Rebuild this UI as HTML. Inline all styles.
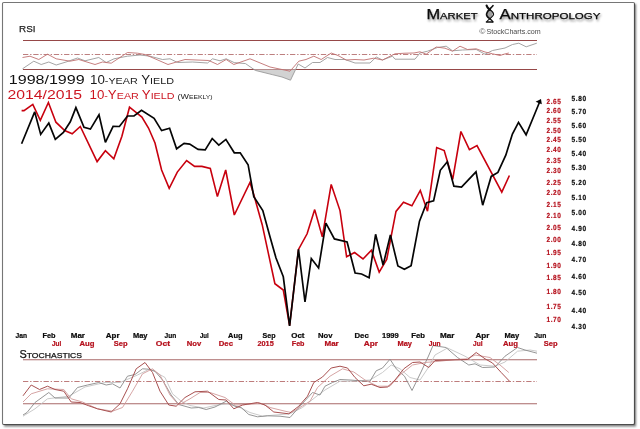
<!DOCTYPE html><html><head><meta charset="utf-8"><style>html,body{margin:0;padding:0;background:#fff;}svg{display:block;will-change:transform}</style></head><body><svg width="640" height="429" viewBox="0 0 640 429"><rect width="640" height="429" fill="#fff"/><defs><filter id="sh" x="-5%" y="-5%" width="110%" height="110%"><feGaussianBlur stdDeviation="1.3"/></filter><filter id="tsh" x="-10%" y="-30%" width="120%" height="160%"><feGaussianBlur stdDeviation="0.8"/></filter></defs><rect x="4" y="4" width="632" height="422.5" fill="#777" filter="url(#sh)"/><rect x="2.5" y="2.5" width="632" height="422" rx="1.2" fill="#fff" stroke="#767676" stroke-width="1.1"/><path d="M634.5,3.5 L634.5,423.3 Q634.5,424.5 633.3,424.5 L3.5,424.5" fill="none" stroke="#4c4c4c" stroke-width="1.1"/><line x1="23" y1="40.5" x2="537" y2="40.5" stroke="#964848" stroke-width="1"/><line x1="23" y1="69.5" x2="537" y2="69.5" stroke="#964848" stroke-width="1"/><line x1="23" y1="54.5" x2="537" y2="54.5" stroke="#a04848" stroke-width="0.7" stroke-dasharray="5.3,1.8,1.4,1.77" stroke-dashoffset="0"/><polygon points="254.0,69.5 255.3,70.4 272.2,74.6 282.0,77.0 290.5,80.2 295.6,69.5" fill="#d2d2d2"/><polyline points="22.5,68.8 33.8,61.2 41.2,64.5 48.8,62.0 56.2,65.0 66.0,62.0 77.5,58.0 85.0,60.8 98.8,57.5 106.2,62.5 114.0,58.8 127.5,56.2 140.0,55.0 150.0,56.2 162.5,59.5 170.0,58.8 177.5,62.5 192.5,62.0 207.5,63.0 212.5,58.8 220.0,60.8 226.2,58.8 234.2,62.6 245.5,63.6 255.3,70.4 272.2,74.6 282.0,77.0 290.5,80.2 298.2,64.0 305.0,68.0 312.5,62.5 320.0,62.5 327.5,57.5 335.0,59.5 345.0,59.5 355.0,63.0 370.0,63.0 376.2,57.0 382.5,60.0 392.5,56.2 395.0,59.2 415.0,59.2 420.0,53.0 427.5,51.2 437.5,47.5 446.2,46.2 452.5,50.8 462.5,50.0 476.2,49.5 485.0,54.2 492.5,50.5 505.0,48.0 512.5,44.5 518.8,43.2 526.2,46.8 536.8,43.2" fill="none" stroke="#9a9a9a" stroke-width="0.9"/><polyline points="22.5,57.5 30.0,56.2 38.8,59.5 47.5,54.2 56.2,58.8 70.0,61.2 78.8,59.5 95.0,64.5 102.5,62.0 111.2,63.2 127.5,52.5 137.5,53.2 145.0,54.5 155.0,58.8 168.0,64.5 185.0,59.5 208.8,60.5 217.5,64.5 226.2,59.5 233.8,64.5 250.0,58.8 270.0,67.0 290.0,71.2 298.8,61.2 306.0,59.5 313.8,56.2 321.2,59.5 331.2,53.0 338.0,55.5 346.2,60.0 355.0,59.5 364.0,60.0 373.8,58.2 382.5,60.0 395.0,53.8 405.0,53.2 414.0,53.0 420.0,51.8 426.2,54.2 436.2,47.0 445.0,48.2 452.5,51.2 460.0,46.2 467.5,49.5 476.2,48.8 485.0,52.0 492.5,53.8 500.0,55.5 504.0,54.2 508.8,53.0" fill="none" stroke="#c07070" stroke-width="0.9"/><line x1="23" y1="359.75" x2="537" y2="359.75" stroke="#a86868" stroke-width="1.1"/><line x1="23" y1="403.75" x2="537" y2="403.75" stroke="#a86868" stroke-width="1.1"/><line x1="23" y1="381.5" x2="537" y2="381.5" stroke="#a85050" stroke-width="0.75" stroke-dasharray="5.3,1.8,1.4,1.77" stroke-dashoffset="0"/><polyline points="23.0,416.2 35.0,408.8 47.5,398.8 68.8,396.2 85.0,387.0 105.0,382.5 120.0,382.5 137.5,375.0 150.0,368.8 165.0,377.5 172.5,393.8 181.2,401.2 190.0,405.5 203.8,408.0 217.5,405.0 227.5,403.8 240.0,407.5 250.0,412.5 262.5,416.2 275.0,415.0 290.0,413.8 302.5,407.5 315.0,397.5 325.0,390.0 340.0,381.2 355.0,381.2 370.0,380.0 382.5,372.5 391.2,365.0 400.0,368.8 410.0,377.5 420.0,380.0 427.5,368.8 435.0,355.0 447.5,348.0 460.0,353.8 465.0,356.2 480.0,365.0 495.0,366.2 505.0,362.0 517.5,351.2 530.0,350.0 537.0,351.2" fill="none" stroke="#c4c4c4" stroke-width="0.9"/><polyline points="23.0,415.0 27.0,412.5 35.0,402.5 48.8,392.5 55.0,398.0 68.8,398.0 77.5,387.5 87.5,385.0 98.8,382.5 106.2,385.0 112.5,383.8 120.0,388.0 127.5,376.2 135.0,374.5 142.5,368.8 148.8,369.2 155.0,371.2 162.5,380.0 171.2,395.0 178.8,404.5 191.2,408.0 198.8,407.5 206.2,409.5 215.0,407.0 226.2,401.2 235.0,406.2 241.2,407.5 248.8,414.5 257.5,416.8 267.5,415.8 280.0,416.2 290.0,417.5 300.0,406.2 312.5,392.5 320.0,395.0 325.0,386.2 332.5,382.5 340.0,379.5 350.0,380.0 360.0,380.8 370.0,381.2 376.2,370.8 382.5,368.0 390.0,359.2 396.2,368.8 404.5,376.2 412.0,390.5 421.0,372.0 428.5,356.0 433.0,345.5 446.0,347.5 457.5,357.5 468.8,365.0 475.0,363.8 482.5,367.5 495.0,367.0 505.0,356.2 517.5,347.5 525.0,350.0 537.0,353.2" fill="none" stroke="#8a8a8a" stroke-width="0.9"/><polyline points="23.0,402.0 31.2,393.8 47.5,388.8 63.8,389.5 71.2,398.8 82.5,402.0 97.5,408.8 112.5,411.2 122.5,407.5 132.5,391.2 142.5,373.8 152.5,368.8 160.0,375.0 170.0,395.0 178.8,405.0 190.0,398.8 200.0,392.5 210.0,392.5 225.0,397.5 235.0,405.0 247.5,404.5 260.0,403.0 270.0,407.5 285.0,411.2 291.2,412.5 300.0,407.5 310.0,401.2 317.5,387.5 330.0,376.2 342.5,368.8 353.8,372.0 365.0,380.0 377.5,386.2 390.0,386.2 400.0,375.0 412.5,365.0 425.0,362.5 440.0,361.2 455.0,359.5 467.5,358.8 475.0,355.0 490.0,357.5 500.0,365.0 508.8,372.5" fill="none" stroke="#d09a9a" stroke-width="0.9"/><polyline points="23.0,395.8 31.2,385.0 39.5,389.5 47.5,386.2 55.0,389.5 63.8,391.2 71.2,402.0 80.0,402.5 88.8,405.8 97.5,408.8 111.2,412.0 120.0,403.8 127.5,388.8 136.2,368.8 145.0,362.5 152.5,372.5 160.0,391.2 168.8,405.0 176.2,406.2 185.0,397.5 195.0,391.8 207.5,391.2 218.8,399.5 226.2,400.0 233.8,408.8 242.5,405.0 257.5,402.5 265.0,405.0 273.8,412.0 288.8,413.8 298.8,406.2 307.5,396.2 313.8,382.5 322.5,377.0 331.2,368.0 340.0,366.2 347.5,368.0 355.0,377.5 363.8,385.8 371.2,384.2 380.0,387.5 387.5,387.0 395.0,380.0 403.8,368.8 412.5,362.5 420.0,362.0 428.8,367.5 435.0,360.5 450.0,360.0 467.5,359.5 476.2,352.5 485.0,358.8 492.5,363.0 501.2,372.5 509.5,381.2" fill="none" stroke="#a85050" stroke-width="1"/><polyline points="21.6,110.6 24.0,110.6 32.8,104.4 40.3,120.3 48.4,102.5 55.9,122.2 64.7,130.6 72.2,133.8 80.3,126.5 97.1,161.6 105.4,150.7 113.8,158.8 121.9,136.2 129.5,107.2 141.9,117.1 148.5,128.0 155.0,143.0 161.6,170.0 169.2,188.3 177.3,172.1 186.6,160.5 194.6,166.4 201.9,166.4 210.3,168.5 217.4,196.6 225.7,170.0 234.3,215.0 250.0,182.5 253.8,194.7 262.2,224.7 274.9,283.7 283.3,290.0 289.6,325.6 298.5,249.4 307.1,233.8 314.7,209.6 322.3,236.8 331.2,184.4 340.0,210.6 346.6,256.8 354.6,252.5 363.0,259.0 371.4,250.3 379.2,272.1 386.7,259.5 396.0,211.4 403.5,202.2 411.9,205.8 420.3,190.4 427.5,211.2 436.7,147.6 444.2,150.6 452.7,179.4 460.9,131.5 469.4,149.7 477.0,145.5 501.8,192.1 509.4,175.5" fill="none" stroke="#c8000e" stroke-width="1.6" stroke-linejoin="miter" stroke-miterlimit="3"/><polyline points="21.6,143.8 34.7,111.9 40.7,134.4 48.8,123.1 55.3,139.4 63.4,132.5 70.3,121.8 75.9,107.6 84.0,127.2 90.4,129.1 99.0,114.7 105.4,142.4 113.1,126.3 119.4,126.5 127.5,116.0 134.0,116.0 141.5,110.4 154.1,118.4 161.6,130.6 169.6,128.2 176.6,148.8 184.1,143.4 189.7,144.1 198.1,149.4 205.2,149.9 212.2,138.5 218.8,145.2 225.9,139.4 234.3,152.8 240.2,152.9 248.1,164.7 253.8,196.6 262.8,210.6 269.5,235.0 276.0,258.0 283.3,276.8 289.6,326.0 298.5,249.4 305.0,302.0 311.3,258.5 318.6,268.0 325.9,223.2 334.4,238.9 347.1,242.0 355.1,273.0 361.6,274.0 369.1,277.7 375.6,234.3 383.1,265.1 390.4,234.9 397.9,266.0 404.4,269.3 411.1,265.7 419.5,221.2 426.7,202.7 433.6,200.9 440.3,170.3 447.3,161.8 453.9,186.1 461.5,187.0 476.0,171.8 482.7,205.2 491.2,176.4 497.9,172.4 505.8,155.2 512.4,134.0 518.5,122.4 526.1,134.8 535.2,112.7 539.6,102.0" fill="none" stroke="#050505" stroke-width="1.7" stroke-linejoin="miter" stroke-miterlimit="3"/><polygon points="541,99 535.6,101.8 541.8,104.2" fill="#000"/><g filter="url(#tsh)" opacity="0.55"><text x="427.5" y="20.6" font-family="Liberation Sans, sans-serif" fill="#444" textLength="51" lengthAdjust="spacingAndGlyphs" stroke="#444" stroke-width="0.3"><tspan font-size="14">M</tspan><tspan font-size="9.6">ARKET</tspan></text><text x="500.5" y="20.6" font-family="Liberation Sans, sans-serif" fill="#444" textLength="101" lengthAdjust="spacingAndGlyphs" stroke="#444" stroke-width="0.3"><tspan font-size="14">A</tspan><tspan font-size="9.6">NTHROPOLOGY</tspan></text></g><text x="426.5" y="18.9" font-family="Liberation Sans, sans-serif" fill="#0a0a0a" textLength="51" lengthAdjust="spacingAndGlyphs" stroke="#0a0a0a" stroke-width="0.25"><tspan font-size="14">M</tspan><tspan font-size="9.6">ARKET</tspan></text><text x="499.5" y="18.9" font-family="Liberation Sans, sans-serif" fill="#0a0a0a" textLength="101" lengthAdjust="spacingAndGlyphs" stroke="#0a0a0a" stroke-width="0.25"><tspan font-size="14">A</tspan><tspan font-size="9.6">NTHROPOLOGY</tspan></text><ellipse cx="490" cy="14" rx="2.6" ry="4.2" fill="#a0a0a0"/><g stroke="#111" fill="none" stroke-linecap="round"><path d="M486.6,5.6 C487.2,8.2 489.5,9 490,9.8" stroke-width="2.2"/><path d="M493,5.6 C491.5,8 487,10 486.6,14.2 C486.4,17 489,18 490.2,19" stroke-width="1.7"/><path d="M490,9.8 C492,11 493.6,12.5 493.6,14.3 C493.6,17 487.6,19.5 486.8,21.8" stroke-width="1.1"/><path d="M490.2,19 C491.2,19.8 492.4,20.8 492.8,21.8" stroke-width="1.4"/><path d="M486.5,22 L492.8,22" stroke-width="1.6"/></g><text x="479.3" y="34.3" font-family="Liberation Sans, sans-serif" font-size="7.4" fill="#555" textLength="6.2" lengthAdjust="spacingAndGlyphs">©</text><text x="486.5" y="34.3" font-family="Liberation Sans, sans-serif" font-size="7.2" fill="#4a4a4a" textLength="54.1" lengthAdjust="spacingAndGlyphs">StockCharts.com</text><text x="19.1" y="31.9" font-family="Liberation Sans, sans-serif" font-size="9.9" fill="#222" textLength="16.4" lengthAdjust="spacingAndGlyphs" stroke="#222" stroke-width="0.25">RSI</text><text x="19.5" y="357.6" font-family="Liberation Sans, sans-serif" fill="#111" textLength="62.5" lengthAdjust="spacingAndGlyphs" stroke="#111" stroke-width="0.25"><tspan font-size="10">S</tspan><tspan font-size="7.9">TOCHASTICS</tspan></text><text x="8.8" y="84.2" font-family="Liberation Sans, sans-serif" font-size="12" fill="#111" textLength="75.8" lengthAdjust="spacingAndGlyphs">1998/1999</text><text x="90" y="84.2" font-family="Liberation Sans, sans-serif" fill="#1a1a1a" textLength="84" lengthAdjust="spacingAndGlyphs"><tspan font-size="12">10</tspan><tspan font-size="9.7">-YEAR</tspan><tspan font-size="12"> Y</tspan><tspan font-size="9.7">IELD</tspan></text><text x="7.5" y="98.6" font-family="Liberation Sans, sans-serif" font-size="12" fill="#cc1520" textLength="74.6" lengthAdjust="spacingAndGlyphs">2014/2015</text><text x="89.5" y="98.6" font-family="Liberation Sans, sans-serif" fill="#cc1520" textLength="85" lengthAdjust="spacingAndGlyphs"><tspan font-size="12">10</tspan><tspan font-size="9.7">-</tspan><tspan font-size="12">Y</tspan><tspan font-size="9.7">EAR </tspan><tspan font-size="12">Y</tspan><tspan font-size="9.7">IELD</tspan></text><text x="177.5" y="98.6" font-family="Liberation Sans, sans-serif" fill="#222" textLength="35" lengthAdjust="spacingAndGlyphs"><tspan font-size="6.6">(W</tspan><tspan font-size="5">EEKLY)</tspan></text><text transform="translate(546.4,103.70) scale(0.88,1)" font-family="Liberation Sans, sans-serif" font-size="7.4" font-weight="bold" fill="#b5101c" stroke="#b5101c" stroke-width="0.18" text-rendering="geometricPrecision" textLength="16.59" lengthAdjust="spacing">2.65</text><text transform="translate(546.4,113.20) scale(0.88,1)" font-family="Liberation Sans, sans-serif" font-size="7.4" font-weight="bold" fill="#b5101c" stroke="#b5101c" stroke-width="0.18" text-rendering="geometricPrecision" textLength="16.59" lengthAdjust="spacing">2.60</text><text transform="translate(546.4,122.70) scale(0.88,1)" font-family="Liberation Sans, sans-serif" font-size="7.4" font-weight="bold" fill="#b5101c" stroke="#b5101c" stroke-width="0.18" text-rendering="geometricPrecision" textLength="16.59" lengthAdjust="spacing">2.55</text><text transform="translate(546.4,133.00) scale(0.88,1)" font-family="Liberation Sans, sans-serif" font-size="7.4" font-weight="bold" fill="#b5101c" stroke="#b5101c" stroke-width="0.18" text-rendering="geometricPrecision" textLength="16.59" lengthAdjust="spacing">2.50</text><text transform="translate(546.4,142.20) scale(0.88,1)" font-family="Liberation Sans, sans-serif" font-size="7.4" font-weight="bold" fill="#b5101c" stroke="#b5101c" stroke-width="0.18" text-rendering="geometricPrecision" textLength="16.59" lengthAdjust="spacing">2.45</text><text transform="translate(546.4,152.00) scale(0.88,1)" font-family="Liberation Sans, sans-serif" font-size="7.4" font-weight="bold" fill="#b5101c" stroke="#b5101c" stroke-width="0.18" text-rendering="geometricPrecision" textLength="16.59" lengthAdjust="spacing">2.40</text><text transform="translate(546.4,163.00) scale(0.88,1)" font-family="Liberation Sans, sans-serif" font-size="7.4" font-weight="bold" fill="#b5101c" stroke="#b5101c" stroke-width="0.18" text-rendering="geometricPrecision" textLength="16.59" lengthAdjust="spacing">2.35</text><text transform="translate(546.4,173.20) scale(0.88,1)" font-family="Liberation Sans, sans-serif" font-size="7.4" font-weight="bold" fill="#b5101c" stroke="#b5101c" stroke-width="0.18" text-rendering="geometricPrecision" textLength="16.59" lengthAdjust="spacing">2.30</text><text transform="translate(546.4,185.00) scale(0.88,1)" font-family="Liberation Sans, sans-serif" font-size="7.4" font-weight="bold" fill="#b5101c" stroke="#b5101c" stroke-width="0.18" text-rendering="geometricPrecision" textLength="16.59" lengthAdjust="spacing">2.25</text><text transform="translate(546.4,195.30) scale(0.88,1)" font-family="Liberation Sans, sans-serif" font-size="7.4" font-weight="bold" fill="#b5101c" stroke="#b5101c" stroke-width="0.18" text-rendering="geometricPrecision" textLength="16.59" lengthAdjust="spacing">2.20</text><text transform="translate(546.4,207.20) scale(0.88,1)" font-family="Liberation Sans, sans-serif" font-size="7.4" font-weight="bold" fill="#b5101c" stroke="#b5101c" stroke-width="0.18" text-rendering="geometricPrecision" textLength="16.59" lengthAdjust="spacing">2.15</text><text transform="translate(546.4,217.70) scale(0.88,1)" font-family="Liberation Sans, sans-serif" font-size="7.4" font-weight="bold" fill="#b5101c" stroke="#b5101c" stroke-width="0.18" text-rendering="geometricPrecision" textLength="16.59" lengthAdjust="spacing">2.10</text><text transform="translate(546.4,230.00) scale(0.88,1)" font-family="Liberation Sans, sans-serif" font-size="7.4" font-weight="bold" fill="#b5101c" stroke="#b5101c" stroke-width="0.18" text-rendering="geometricPrecision" textLength="16.59" lengthAdjust="spacing">2.05</text><text transform="translate(546.4,242.00) scale(0.88,1)" font-family="Liberation Sans, sans-serif" font-size="7.4" font-weight="bold" fill="#b5101c" stroke="#b5101c" stroke-width="0.18" text-rendering="geometricPrecision" textLength="16.59" lengthAdjust="spacing">2.00</text><text transform="translate(546.4,255.30) scale(0.88,1)" font-family="Liberation Sans, sans-serif" font-size="7.4" font-weight="bold" fill="#b5101c" stroke="#b5101c" stroke-width="0.18" text-rendering="geometricPrecision" textLength="16.59" lengthAdjust="spacing">1.95</text><text transform="translate(546.4,267.70) scale(0.88,1)" font-family="Liberation Sans, sans-serif" font-size="7.4" font-weight="bold" fill="#b5101c" stroke="#b5101c" stroke-width="0.18" text-rendering="geometricPrecision" textLength="16.59" lengthAdjust="spacing">1.90</text><text transform="translate(546.4,280.30) scale(0.88,1)" font-family="Liberation Sans, sans-serif" font-size="7.4" font-weight="bold" fill="#b5101c" stroke="#b5101c" stroke-width="0.18" text-rendering="geometricPrecision" textLength="16.59" lengthAdjust="spacing">1.85</text><text transform="translate(546.4,294.30) scale(0.88,1)" font-family="Liberation Sans, sans-serif" font-size="7.4" font-weight="bold" fill="#b5101c" stroke="#b5101c" stroke-width="0.18" text-rendering="geometricPrecision" textLength="16.59" lengthAdjust="spacing">1.80</text><text transform="translate(546.4,308.60) scale(0.88,1)" font-family="Liberation Sans, sans-serif" font-size="7.4" font-weight="bold" fill="#b5101c" stroke="#b5101c" stroke-width="0.18" text-rendering="geometricPrecision" textLength="16.59" lengthAdjust="spacing">1.75</text><text transform="translate(546.4,322.30) scale(0.88,1)" font-family="Liberation Sans, sans-serif" font-size="7.4" font-weight="bold" fill="#b5101c" stroke="#b5101c" stroke-width="0.18" text-rendering="geometricPrecision" textLength="16.59" lengthAdjust="spacing">1.70</text><text transform="translate(571.5,101.20) scale(0.88,1)" font-family="Liberation Sans, sans-serif" font-size="7.4" font-weight="bold" fill="#0a0a0a" stroke="#0a0a0a" stroke-width="0.18" text-rendering="geometricPrecision" textLength="16.70" lengthAdjust="spacing">5.80</text><text transform="translate(571.5,114.20) scale(0.88,1)" font-family="Liberation Sans, sans-serif" font-size="7.4" font-weight="bold" fill="#0a0a0a" stroke="#0a0a0a" stroke-width="0.18" text-rendering="geometricPrecision" textLength="16.70" lengthAdjust="spacing">5.70</text><text transform="translate(571.5,128.10) scale(0.88,1)" font-family="Liberation Sans, sans-serif" font-size="7.4" font-weight="bold" fill="#0a0a0a" stroke="#0a0a0a" stroke-width="0.18" text-rendering="geometricPrecision" textLength="16.70" lengthAdjust="spacing">5.60</text><text transform="translate(571.5,141.90) scale(0.88,1)" font-family="Liberation Sans, sans-serif" font-size="7.4" font-weight="bold" fill="#0a0a0a" stroke="#0a0a0a" stroke-width="0.18" text-rendering="geometricPrecision" textLength="16.70" lengthAdjust="spacing">5.50</text><text transform="translate(571.5,156.00) scale(0.88,1)" font-family="Liberation Sans, sans-serif" font-size="7.4" font-weight="bold" fill="#0a0a0a" stroke="#0a0a0a" stroke-width="0.18" text-rendering="geometricPrecision" textLength="16.70" lengthAdjust="spacing">5.40</text><text transform="translate(571.5,170.40) scale(0.88,1)" font-family="Liberation Sans, sans-serif" font-size="7.4" font-weight="bold" fill="#0a0a0a" stroke="#0a0a0a" stroke-width="0.18" text-rendering="geometricPrecision" textLength="16.70" lengthAdjust="spacing">5.30</text><text transform="translate(571.5,185.40) scale(0.88,1)" font-family="Liberation Sans, sans-serif" font-size="7.4" font-weight="bold" fill="#0a0a0a" stroke="#0a0a0a" stroke-width="0.18" text-rendering="geometricPrecision" textLength="16.70" lengthAdjust="spacing">5.20</text><text transform="translate(571.5,199.70) scale(0.88,1)" font-family="Liberation Sans, sans-serif" font-size="7.4" font-weight="bold" fill="#0a0a0a" stroke="#0a0a0a" stroke-width="0.18" text-rendering="geometricPrecision" textLength="16.70" lengthAdjust="spacing">5.10</text><text transform="translate(571.5,215.30) scale(0.88,1)" font-family="Liberation Sans, sans-serif" font-size="7.4" font-weight="bold" fill="#0a0a0a" stroke="#0a0a0a" stroke-width="0.18" text-rendering="geometricPrecision" textLength="16.70" lengthAdjust="spacing">5.00</text><text transform="translate(571.5,230.50) scale(0.88,1)" font-family="Liberation Sans, sans-serif" font-size="7.4" font-weight="bold" fill="#0a0a0a" stroke="#0a0a0a" stroke-width="0.18" text-rendering="geometricPrecision" textLength="16.70" lengthAdjust="spacing">4.90</text><text transform="translate(571.5,245.90) scale(0.88,1)" font-family="Liberation Sans, sans-serif" font-size="7.4" font-weight="bold" fill="#0a0a0a" stroke="#0a0a0a" stroke-width="0.18" text-rendering="geometricPrecision" textLength="16.70" lengthAdjust="spacing">4.80</text><text transform="translate(571.5,262.30) scale(0.88,1)" font-family="Liberation Sans, sans-serif" font-size="7.4" font-weight="bold" fill="#0a0a0a" stroke="#0a0a0a" stroke-width="0.18" text-rendering="geometricPrecision" textLength="16.70" lengthAdjust="spacing">4.70</text><text transform="translate(571.5,278.50) scale(0.88,1)" font-family="Liberation Sans, sans-serif" font-size="7.4" font-weight="bold" fill="#0a0a0a" stroke="#0a0a0a" stroke-width="0.18" text-rendering="geometricPrecision" textLength="16.70" lengthAdjust="spacing">4.60</text><text transform="translate(571.5,295.30) scale(0.88,1)" font-family="Liberation Sans, sans-serif" font-size="7.4" font-weight="bold" fill="#0a0a0a" stroke="#0a0a0a" stroke-width="0.18" text-rendering="geometricPrecision" textLength="16.70" lengthAdjust="spacing">4.50</text><text transform="translate(571.5,312.50) scale(0.88,1)" font-family="Liberation Sans, sans-serif" font-size="7.4" font-weight="bold" fill="#0a0a0a" stroke="#0a0a0a" stroke-width="0.18" text-rendering="geometricPrecision" textLength="16.70" lengthAdjust="spacing">4.40</text><text transform="translate(571.5,329.40) scale(0.88,1)" font-family="Liberation Sans, sans-serif" font-size="7.4" font-weight="bold" fill="#0a0a0a" stroke="#0a0a0a" stroke-width="0.18" text-rendering="geometricPrecision" textLength="16.70" lengthAdjust="spacing">4.30</text><text x="15.5" y="338.1" font-family="Liberation Sans, sans-serif" font-size="7.2" fill="#0a0a0a" font-weight="bold" textLength="11.5" lengthAdjust="spacingAndGlyphs" stroke="#0a0a0a" stroke-width="0.22">Jan</text><text x="42.5" y="338.1" font-family="Liberation Sans, sans-serif" font-size="7.2" fill="#0a0a0a" font-weight="bold" textLength="13.0" lengthAdjust="spacingAndGlyphs" stroke="#0a0a0a" stroke-width="0.22">Feb</text><text x="70.75" y="338.1" font-family="Liberation Sans, sans-serif" font-size="7.2" fill="#0a0a0a" font-weight="bold" textLength="14.25" lengthAdjust="spacingAndGlyphs" stroke="#0a0a0a" stroke-width="0.22">Mar</text><text x="105.75" y="338.1" font-family="Liberation Sans, sans-serif" font-size="7.2" fill="#0a0a0a" font-weight="bold" textLength="13.75" lengthAdjust="spacingAndGlyphs" stroke="#0a0a0a" stroke-width="0.22">Apr</text><text x="133" y="338.1" font-family="Liberation Sans, sans-serif" font-size="7.2" fill="#0a0a0a" font-weight="bold" textLength="14.5" lengthAdjust="spacingAndGlyphs" stroke="#0a0a0a" stroke-width="0.22">May</text><text x="164.5" y="338.1" font-family="Liberation Sans, sans-serif" font-size="7.2" fill="#0a0a0a" font-weight="bold" textLength="11.75" lengthAdjust="spacingAndGlyphs" stroke="#0a0a0a" stroke-width="0.22">Jun</text><text x="200" y="338.1" font-family="Liberation Sans, sans-serif" font-size="7.2" fill="#0a0a0a" font-weight="bold" textLength="8.75" lengthAdjust="spacingAndGlyphs" stroke="#0a0a0a" stroke-width="0.22">Jul</text><text x="228" y="338.1" font-family="Liberation Sans, sans-serif" font-size="7.2" fill="#0a0a0a" font-weight="bold" textLength="14.5" lengthAdjust="spacingAndGlyphs" stroke="#0a0a0a" stroke-width="0.22">Aug</text><text x="262.5" y="338.1" font-family="Liberation Sans, sans-serif" font-size="7.2" fill="#0a0a0a" font-weight="bold" textLength="13.0" lengthAdjust="spacingAndGlyphs" stroke="#0a0a0a" stroke-width="0.22">Sep</text><text x="291.25" y="338.1" font-family="Liberation Sans, sans-serif" font-size="7.2" fill="#0a0a0a" font-weight="bold" textLength="13.25" lengthAdjust="spacingAndGlyphs" stroke="#0a0a0a" stroke-width="0.22">Oct</text><text x="318" y="338.1" font-family="Liberation Sans, sans-serif" font-size="7.2" fill="#0a0a0a" font-weight="bold" textLength="14.5" lengthAdjust="spacingAndGlyphs" stroke="#0a0a0a" stroke-width="0.22">Nov</text><text x="354.5" y="338.1" font-family="Liberation Sans, sans-serif" font-size="7.2" fill="#0a0a0a" font-weight="bold" textLength="14.25" lengthAdjust="spacingAndGlyphs" stroke="#0a0a0a" stroke-width="0.22">Dec</text><text x="382" y="338.1" font-family="Liberation Sans, sans-serif" font-size="7.2" fill="#0a0a0a" font-weight="bold" textLength="16.75" lengthAdjust="spacingAndGlyphs" stroke="#0a0a0a" stroke-width="0.22">1999</text><text x="411.25" y="338.1" font-family="Liberation Sans, sans-serif" font-size="7.2" fill="#0a0a0a" font-weight="bold" textLength="13.75" lengthAdjust="spacingAndGlyphs" stroke="#0a0a0a" stroke-width="0.22">Feb</text><text x="440" y="338.1" font-family="Liberation Sans, sans-serif" font-size="7.2" fill="#0a0a0a" font-weight="bold" textLength="14.5" lengthAdjust="spacingAndGlyphs" stroke="#0a0a0a" stroke-width="0.22">Mar</text><text x="475.5" y="338.1" font-family="Liberation Sans, sans-serif" font-size="7.2" fill="#0a0a0a" font-weight="bold" textLength="14.0" lengthAdjust="spacingAndGlyphs" stroke="#0a0a0a" stroke-width="0.22">Apr</text><text x="504.5" y="338.1" font-family="Liberation Sans, sans-serif" font-size="7.2" fill="#0a0a0a" font-weight="bold" textLength="14.75" lengthAdjust="spacingAndGlyphs" stroke="#0a0a0a" stroke-width="0.22">May</text><text x="534.25" y="338.1" font-family="Liberation Sans, sans-serif" font-size="7.2" fill="#0a0a0a" font-weight="bold" textLength="12.0" lengthAdjust="spacingAndGlyphs" stroke="#0a0a0a" stroke-width="0.22">Jun</text><text x="52" y="346.3" font-family="Liberation Sans, sans-serif" font-size="7.2" fill="#b5101c" font-weight="bold" textLength="9.25" lengthAdjust="spacingAndGlyphs" stroke="#b5101c" stroke-width="0.22">Jul</text><text x="79.5" y="346.3" font-family="Liberation Sans, sans-serif" font-size="7.2" fill="#b5101c" font-weight="bold" textLength="15.0" lengthAdjust="spacingAndGlyphs" stroke="#b5101c" stroke-width="0.22">Aug</text><text x="113.75" y="346.3" font-family="Liberation Sans, sans-serif" font-size="7.2" fill="#b5101c" font-weight="bold" textLength="13.75" lengthAdjust="spacingAndGlyphs" stroke="#b5101c" stroke-width="0.22">Sep</text><text x="155.75" y="346.3" font-family="Liberation Sans, sans-serif" font-size="7.2" fill="#b5101c" font-weight="bold" textLength="14.25" lengthAdjust="spacingAndGlyphs" stroke="#b5101c" stroke-width="0.22">Oct</text><text x="186.75" y="346.3" font-family="Liberation Sans, sans-serif" font-size="7.2" fill="#b5101c" font-weight="bold" textLength="14.5" lengthAdjust="spacingAndGlyphs" stroke="#b5101c" stroke-width="0.22">Nov</text><text x="218.75" y="346.3" font-family="Liberation Sans, sans-serif" font-size="7.2" fill="#b5101c" font-weight="bold" textLength="14.25" lengthAdjust="spacingAndGlyphs" stroke="#b5101c" stroke-width="0.22">Dec</text><text x="257.5" y="346.3" font-family="Liberation Sans, sans-serif" font-size="7.2" fill="#b5101c" font-weight="bold" textLength="16.25" lengthAdjust="spacingAndGlyphs" stroke="#b5101c" stroke-width="0.22">2015</text><text x="291.75" y="346.3" font-family="Liberation Sans, sans-serif" font-size="7.2" fill="#b5101c" font-weight="bold" textLength="12.75" lengthAdjust="spacingAndGlyphs" stroke="#b5101c" stroke-width="0.22">Feb</text><text x="324.5" y="346.3" font-family="Liberation Sans, sans-serif" font-size="7.2" fill="#b5101c" font-weight="bold" textLength="14.25" lengthAdjust="spacingAndGlyphs" stroke="#b5101c" stroke-width="0.22">Mar</text><text x="363.75" y="346.3" font-family="Liberation Sans, sans-serif" font-size="7.2" fill="#b5101c" font-weight="bold" textLength="14.25" lengthAdjust="spacingAndGlyphs" stroke="#b5101c" stroke-width="0.22">Apr</text><text x="397.5" y="346.3" font-family="Liberation Sans, sans-serif" font-size="7.2" fill="#b5101c" font-weight="bold" textLength="14.5" lengthAdjust="spacingAndGlyphs" stroke="#b5101c" stroke-width="0.22">May</text><text x="428.75" y="346.3" font-family="Liberation Sans, sans-serif" font-size="7.2" fill="#b5101c" font-weight="bold" textLength="11.75" lengthAdjust="spacingAndGlyphs" stroke="#b5101c" stroke-width="0.22">Jun</text><text x="473" y="346.3" font-family="Liberation Sans, sans-serif" font-size="7.2" fill="#b5101c" font-weight="bold" textLength="9.5" lengthAdjust="spacingAndGlyphs" stroke="#b5101c" stroke-width="0.22">Jul</text><text x="503" y="346.3" font-family="Liberation Sans, sans-serif" font-size="7.2" fill="#b5101c" font-weight="bold" textLength="15" lengthAdjust="spacingAndGlyphs" stroke="#b5101c" stroke-width="0.22">Aug</text><text x="543.75" y="346.3" font-family="Liberation Sans, sans-serif" font-size="7.2" fill="#b5101c" font-weight="bold" textLength="13.75" lengthAdjust="spacingAndGlyphs" stroke="#b5101c" stroke-width="0.22">Sep</text></svg></body></html>
